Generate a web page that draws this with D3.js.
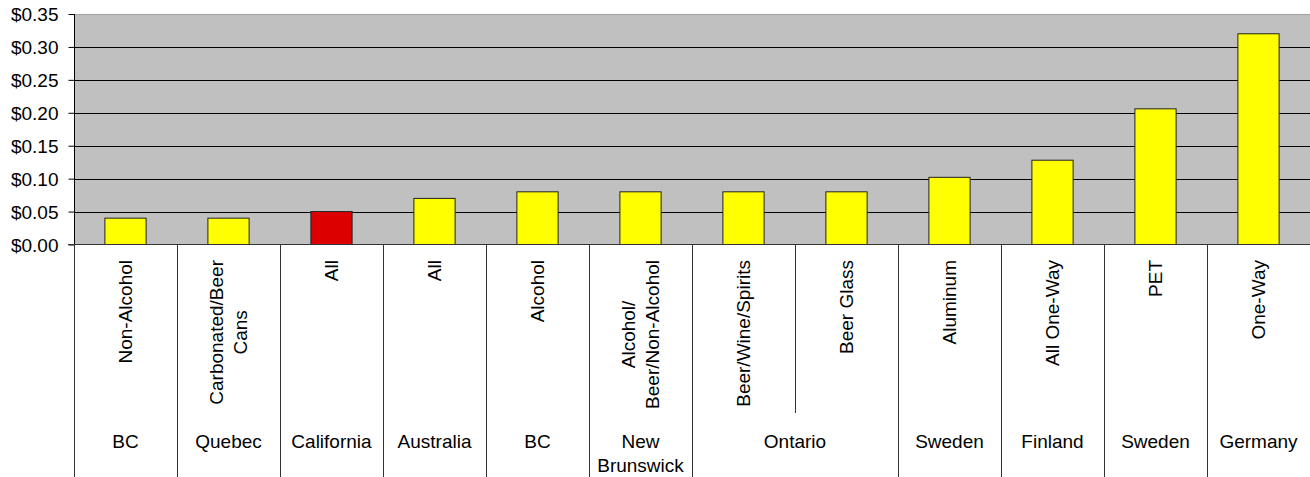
<!DOCTYPE html>
<html>
<head>
<meta charset="utf-8">
<script src="https://cdn.jsdelivr.net/npm/d3@7"></script>
<style>
  html, body { margin: 0; padding: 0; background: #fff; }
  svg { display: block; font-family: Arial, "Liberation Sans", sans-serif; }
</style>
</head>
<body>
<svg id="chart" width="1310" height="477"></svg>
<script>
// Container types, one per bar ("\n" splits a label into lines)
const containerTypes = [
  "Non-Alcohol", "Carbonated/Beer\nCans", "All", "All", "Alcohol",
  "Alcohol/\nBeer/Non-Alcohol", "Beer/Wine/Spirits", "Beer Glass",
  "Aluminum", "All One-Way", "PET", "One-Way"
];
// Jurisdiction of each bar
const jurisdictions = [
  "BC", "Quebec", "California", "Australia", "BC", "New\nBrunswick",
  "Ontario", "Ontario", "Sweden", "Finland", "Sweden", "Germany"
];
// Deposit value (US$) per container
const deposits = [0.04, 0.04, 0.05, 0.07, 0.08, 0.08, 0.08, 0.08, 0.102, 0.128, 0.206, 0.32];
const highlighted = "California";
const yTicks = [0, 0.05, 0.10, 0.15, 0.20, 0.25, 0.30, 0.35];

(function () {
  const svg = d3.select("#chart");
  const plotLeft = 74, plotRight = 1310, plotTop = 14, plotBottom = 244.5;
  const fontSize = 19;

  const x = d3.scaleBand().domain(d3.range(deposits.length)).range([plotLeft, plotRight]).paddingInner(0).paddingOuter(0);
  const y = d3.scaleLinear().domain([0, 0.35]).range([plotBottom, plotTop]);

  // plot background
  svg.append("rect").attr("x", plotLeft).attr("y", plotTop).attr("width", plotRight - plotLeft).attr("height", plotBottom - plotTop)
    .attr("fill", "#c0c0c0");
  svg.append("line").attr("x1", plotLeft).attr("x2", plotRight).attr("y1", plotTop + 0.5).attr("y2", plotTop + 0.5)
    .attr("stroke", "#a0a0a0");

  // gridlines
  svg.append("g").selectAll("line").data(yTicks.slice(1, -1)).join("line")
    .attr("x1", plotLeft).attr("x2", plotRight)
    .attr("y1", d => Math.round(y(d)) + 0.5).attr("y2", d => Math.round(y(d)) + 0.5)
    .attr("stroke", "#000").attr("stroke-width", 1);

  // bars
  const bw = x.bandwidth() * 0.4;
  svg.append("g").selectAll("rect").data(deposits).join("rect")
    .attr("x", (d, i) => x(i) + (x.bandwidth() - bw) / 2)
    .attr("y", d => y(d))
    .attr("width", bw)
    .attr("height", d => y(0) - y(d))
    .attr("fill", (d, i) => jurisdictions[i] === highlighted ? "#dd0000" : "#ffff00")
    .attr("stroke", "#222").attr("stroke-width", 1);

  // y axis
  const yAxis = d3.axisLeft(y).tickValues(yTicks).tickFormat(d3.format("$.2f")).tickSize(6).tickPadding(10);
  const ga = svg.append("g").attr("transform", `translate(${plotLeft + 0.5},0)`).call(yAxis);
  ga.select(".domain").attr("stroke", "#000").attr("d", `M0,${plotTop}V${plotBottom}`);
  ga.selectAll(".tick line").attr("stroke", "#000");
  ga.selectAll(".tick text").attr("font-size", fontSize).attr("font-family", "Arial, 'Liberation Sans', sans-serif")
    .attr("fill", "#000").attr("dy", "0.35em");

  // x axis baseline
  svg.append("line").attr("x1", plotLeft - 6).attr("x2", plotRight).attr("y1", plotBottom).attr("y2", plotBottom)
    .attr("stroke", "#333").attr("stroke-width", 1.2);

  // group spans from consecutive jurisdictions
  const groups = [];
  jurisdictions.forEach((j, i) => {
    const g = groups[groups.length - 1];
    if (g && g.name === j && jurisdictions[i - 1] === j) g.end = i;
    else groups.push({ name: j, start: i, end: i });
  });
  const groupStarts = new Set(groups.map(g => g.start));

  // separators between categories
  const sep = svg.append("g").attr("stroke", "#333").attr("stroke-width", 1);
  d3.range(deposits.length + 1).forEach(k => {
    const xp = Math.round(k < deposits.length ? x(k) : plotRight) + 0.5;
    const full = k === 0 || k === deposits.length || groupStarts.has(k);
    sep.append("line").attr("x1", xp).attr("x2", xp).attr("y1", plotBottom).attr("y2", full ? 477 : 413);
  });

  // rotated container labels
  const lineH = 24, labelTop = 260;
  containerTypes.forEach((label, i) => {
    const lines = label.split("\n");
    const cx = x(i) + x.bandwidth() / 2;
    const t = svg.append("text").attr("font-size", fontSize).attr("text-anchor", "middle").attr("fill", "#000");
    lines.forEach((ln, j) => {
      t.append("tspan").attr("x", 0).attr("y", (j - (lines.length - 1) / 2) * lineH).attr("dy", "0.35em").text(ln);
    });
    let maxW = 0;
    t.selectAll("tspan").each(function () { maxW = Math.max(maxW, this.getComputedTextLength()); });
    t.attr("transform", `translate(${cx},${labelTop + maxW / 2}) rotate(-90)`);
  });

  // jurisdiction labels
  groups.forEach(g => {
    const cx = (x(g.start) + x(g.end) + x.bandwidth()) / 2;
    const lines = g.name.split("\n");
    const t = svg.append("text").attr("font-size", fontSize).attr("text-anchor", "middle").attr("fill", "#000");
    lines.forEach((ln, j) => {
      t.append("tspan").attr("x", cx).attr("y", 448 + j * 23.5).text(ln);
    });
  });
})();
</script>
</body>
</html>
